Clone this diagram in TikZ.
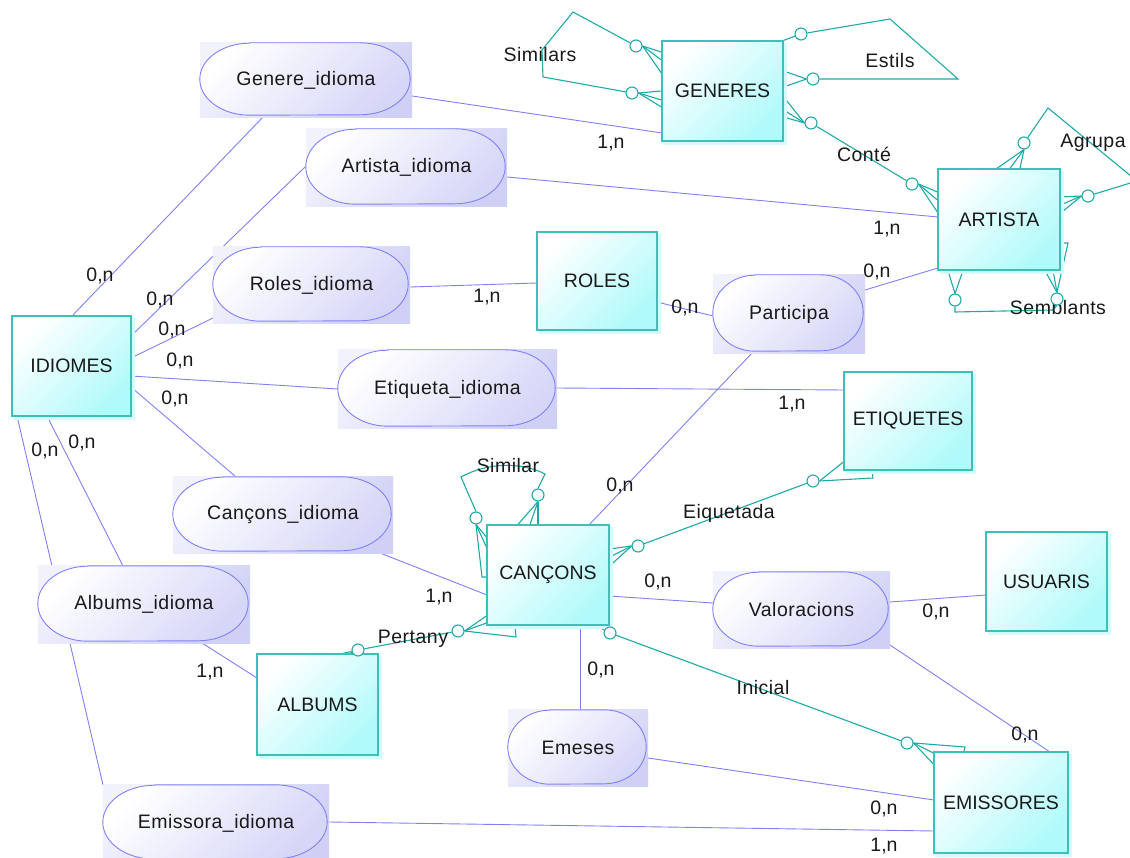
\documentclass[tikz,border=0pt]{standalone}
\usepackage{fontspec}
\setmainfont{Liberation Sans}
\newfontfamily\lsfont{Liberation Sans}[LetterSpace=2.5]
\usetikzlibrary{calc}
\pgfdeclarelayer{bg}\pgfdeclarelayer{mid}
\pgfsetlayers{bg,mid,main}
\definecolor{bl}{RGB}{128,128,245}
\definecolor{tl}{RGB}{30,170,168}
\definecolor{eb}{RGB}{60,192,186}
\definecolor{ef}{RGB}{176,250,250}
\definecolor{rl}{RGB}{208,208,246}
\definecolor{rt}{RGB}{242,242,253}
\definecolor{rs}{RGB}{214,214,248}
\definecolor{ro}{RGB}{128,128,250}
\tikzset{
  txt/.style={font=\fontsize{19.5}{23}\selectfont, text=black!90},
  ent/.style={txt, rectangle, draw=eb, line width=1.3pt, top color=white, bottom color=ef, shading angle=45, inner sep=0pt},
  rel/.style={txt, font=\lsfont\fontsize{19.5}{24}\selectfont, rectangle, inner sep=0pt},
  lbl/.style={txt, inner sep=0pt},
  nlbl/.style={txt, font=\lsfont\fontsize{19.5}{24}\selectfont, inner sep=0pt},
  ring/.style={circle, draw=tl, fill=white, line width=1.1pt, minimum size=12pt, inner sep=0pt},
  bline/.style={draw=bl, line width=0.9pt},
  tline/.style={draw=tl, line width=1.1pt},
}
\newcommand\stad[3]{%
  \shade[top color=rt, bottom color=rl, shading angle=45] (#1.north west) rectangle (#1.south east);
  \path[draw=ro, line width=0.9pt, top color=white, bottom color=rs, shading angle=45]
    ([xshift=#2pt]#1.north west) -- ([xshift=-#2pt-2pt]#1.north east)
    arc[start angle=90, end angle=-90, x radius=#2pt, y radius=#3pt]
    -- ([xshift=#2pt, yshift=2pt]#1.south west)
    arc[start angle=270, end angle=90, x radius=#2pt, y radius=#3pt] -- cycle;
}
\newcommand\eshadow[1]{%
  \fill[ef!55] ($(#1.north west)+(3,3)$) rectangle ($(#1.south east)+(3,3)$);
}
\begin{document}
\begin{tikzpicture}[x=1pt,y=-1pt]
\useasboundingbox (0,0) rectangle (1130,858);
\begin{pgfonlayer}{bg}
\fill[white] (0,0) rectangle (1130,858);
\end{pgfonlayer}

% entities
\node[ent, minimum width=121pt, minimum height=100pt] (GEN) at (722.5,91) {GENERES};
\node[ent, minimum width=122pt, minimum height=101pt] (ART) at (999,219.5) {ARTISTA};
\node[ent, minimum width=120pt, minimum height=98pt] (ROL) at (597,281) {ROLES};
\node[ent, minimum width=128pt, minimum height=98pt] (ETI) at (908,421) {ETIQUETES};
\node[ent, minimum width=119pt, minimum height=100pt] (IDI) at (71.5,366) {IDIOMES};
\node[ent, minimum width=122pt, minimum height=100pt] (CAN) at (548,575) {CANÇONS};
\node[ent, minimum width=121pt, minimum height=99pt] (USU) at (1046.5,581.5) {USUARIS};
\node[ent, minimum width=121pt, minimum height=101pt] (ALB) at (317.5,704.5) {ALBUMS};
\node[ent, minimum width=134pt, minimum height=101pt] (EMI) at (1001,802.5) {EMISSORES};

% relationships
\node[rel, minimum width=212pt, minimum height=74pt] (GI) at (306,80) {Genere\_idioma};
\node[rel, minimum width=201pt, minimum height=77pt] (AI) at (406.5,167.5) {Artista\_idioma};
\node[rel, minimum width=197pt, minimum height=76pt] (RI) at (311.5,285) {Roles\_idioma};
\node[rel, minimum width=152pt, minimum height=78pt] (PA) at (789,314) {Participa};
\node[rel, minimum width=219pt, minimum height=78pt] (EI) at (447.5,389) {Etiqueta\_idioma};
\node[rel, minimum width=220pt, minimum height=76pt] (CI) at (283,515) {Cançons\_idioma};
\node[rel, minimum width=212pt, minimum height=77pt] (ABI) at (144,604.5) {Albums\_idioma};
\node[rel, minimum width=177pt, minimum height=76pt] (VA) at (801.5,610) {Valoracions};
\node[rel, minimum width=140pt, minimum height=76pt] (EM) at (578,748) {Emeses};
\node[rel, minimum width=226pt, minimum height=76pt] (EMI2) at (216,823) {Emissora\_idioma};

\begin{pgfonlayer}{mid}
\foreach \n in {GEN,ART,ROL,ETI,IDI,CAN,USU,ALB,EMI} {\eshadow{\n}}
\stad{GI}{50}{36}
\stad{AI}{50}{37.5}
\stad{RI}{48}{37}
\stad{PA}{42}{38}
\stad{EI}{50}{38}
\stad{CI}{50}{37}
\stad{ABI}{50}{37.5}
\stad{VA}{46}{37}
\stad{EM}{42}{37}
\stad{EMI2}{52}{37}
\end{pgfonlayer}

% cardinality labels
\node[lbl] (k1) at (100,276) {0,n};
\node[lbl] (k2) at (611,143) {1,n};
\node[lbl] (k3) at (160,300) {0,n};
\node[lbl] (k4) at (172,330) {0,n};
\node[lbl] (k5) at (180,361) {0,n};
\node[lbl] (k6) at (175,399) {0,n};
\node[lbl] (k7) at (82,443) {0,n};
\node[lbl] (k8) at (45,451) {0,n};
\node[lbl] (k9) at (487,297) {1,n};
\node[lbl] (k10) at (685,308) {0,n};
\node[lbl] (k11) at (877,272) {0,n};
\node[lbl] (k12) at (620,486) {0,n};
\node[lbl] (k13) at (887,229) {1,n};
\node[lbl] (k14) at (792,404) {1,n};
\node[lbl] (k15) at (439,597) {1,n};
\node[lbl] (k16) at (210,672) {1,n};
\node[lbl] (k17) at (658,582) {0,n};
\node[lbl] (k18) at (936,612) {0,n};
\node[lbl] (k19) at (1025,735) {0,n};
\node[lbl] (k20) at (601,670) {0,n};
\node[lbl] (k21) at (884,809) {0,n};
\node[lbl] (k22) at (884,846) {1,n};

% recursive / crow's foot relationship labels
\node[nlbl] (n1) at (540,55) {Similars};
\node[nlbl] (n2) at (890,61) {Estils};
\node[nlbl] (n3) at (864,154) {Conté};
\node[nlbl] (n4) at (1093,143) {Agrupa};
\node[nlbl] (n5) at (1058,308) {Semblants};
\node[nlbl] (n6) at (508,466) {Similar};
\node[nlbl] (n7) at (729,513) {Eiquetada};
\node[nlbl] (n8) at (413,639) {Pertany};
\node[nlbl] (n9) at (763,688) {Inicial};

% rings
\node[ring] (cS1) at (636,46) {};
\node[ring] (cS2) at (632,93) {};
\node[ring] (cE1) at (801,34) {};
\node[ring] (cE2) at (813,79) {};
\node[ring] (cC1) at (811,123) {};
\node[ring] (cC2) at (912,184) {};
\node[ring] (cA1) at (1024,143) {};
\node[ring] (cA2) at (1088,196) {};
\node[ring] (cB1) at (955,300) {};
\node[ring] (cB2) at (1057,299) {};
\node[ring] (cL) at (476,518) {};
\node[ring] (cR) at (538,495) {};
\node[ring] (cQ1) at (638,546) {};
\node[ring] (cQ2) at (813,481) {};
\node[ring] (cP1) at (458,631) {};
\node[ring] (cP2) at (358,650) {};
\node[ring] (cI1) at (610,633) {};
\node[ring] (cI2) at (907,743) {};

\begin{pgfonlayer}{bg}
% blue connectors
\path[bline] ($(GI)+(-43,37)$) -- ($(IDI)+(0.5,-50)$);
\path[bline] ($(GI)+(106,16)$) -- ($(GEN)+(-60.5,42)$);
\path[bline] ($(AI)+(-101.5,-0.5)$) -- ($(IDI)+(59.5,-30)$);
\path[bline] ($(RI)+(-98.5,33)$) -- ($(IDI)+(59.5,-8)$);
\path[bline] ($(EI)+(-109.5,0)$) -- ($(IDI)+(59.5,10)$);
\path[bline] ($(CI)+(-47,-38)$) -- ($(IDI)+(59.5,21)$);
\path[bline] ($(ABI)+(-21,-38.5)$) -- ($(IDI)+(-24.5,50)$);
\path[bline] ($(EMI2)+(-113,-38)$) -- ($(IDI)+(-54.5,50)$);
\path[bline] ($(RI)+(98.5,2)$) -- ($(ROL)+(-60,2)$);
\path[bline] ($(ROL)+(60,21)$) -- ($(PA)+(-76,2)$);
\path[bline] ($(PA)+(76,-24)$) -- ($(ART)+(-61,48.5)$);
\path[bline] ($(PA)+(-37,39)$) -- ($(CAN)+(41,-50)$);
\path[bline] ($(AI)+(100.5,9.5)$) -- ($(ART)+(-61,-2.5)$);
\path[bline] ($(EI)+(109.5,-1)$) -- ($(ETI)+(-64,-31)$);
\path[bline] ($(CI)+(97,38)$) -- ($(CAN)+(-61,20)$);
\path[bline] ($(ABI)+(58,38.5)$) -- ($(ALB)+(-60.5,-26.5)$);
\path[bline] ($(CAN)+(61,21)$) -- ($(VA)+(-88.5,-7)$);
\path[bline] ($(VA)+(88.5,-8)$) -- ($(USU)+(-60.5,13.5)$);
\path[bline] ($(VA)+(88.5,35)$) -- ($(EMI)+(49,-50.5)$);
\path[bline] ($(CAN)+(32,50)$) -- ($(EM)+(2,-38)$);
\path[bline] ($(EM)+(70,10)$) -- ($(EMI)+(-67,-2.5)$);
\path[bline] ($(EMI2)+(113,-1)$) -- ($(EMI)+(-67,28.5)$);

% Similars (GENERES)
\path[tline] (cS1) -- (573,12) -- (542,50) -- (543,77) -- (cS2);
\foreach \y in {52,60,73} \path[tline] (cS1.east) -- (GEN.west |- 0,\y);
\foreach \y in {91,100,107} \path[tline] (cS2.east) -- (GEN.west |- 0,\y);
% Estils
\path[tline] (cE1) -- (890,19) -- (958,79) -- (cE2);
\path[tline] (GEN.north east) -- (cE1);
\foreach \y in {71,87} \path[tline] (cE2.west) -- (GEN.east |- 0,\y);
% Conte
\path[tline] (cC1) -- (cC2);
\foreach \y in {97,110,117} \path[tline] (cC1.west) -- (GEN.east |- 0,\y);
\foreach \y in {192,200,212} \path[tline] (cC2.east) -- (ART.west |- 0,\y);
% Agrupa
\path[tline] (cA1) -- (1048,108) -- (1137,181) -- (cA2);
\foreach \x in {997,1010,1020} \path[tline] (cA1.south) -- (ART.north -| \x,0);
\foreach \y in {197,205,213} \path[tline] (cA2.west) -- (ART.east |- 0,\y);
% Semblants
\path[tline] (cB1.south) -- (955,312) -- (1053,310) -- (cB2.south);
\foreach \x in {948,963} \path[tline] (cB1.north) -- (ART.south -| \x,0);
\foreach \x in {1045,1053} \path[tline] (cB2.north) -- (ART.south -| \x,0);
\path[tline] (ART.east |- 0,243) -- (1068,243) -- (cB2.north);
% Similar (CANCONS)
\path[tline] (cL.north) -- (461,477) .. controls (488,462) and (522,462) .. (545,474) -- (cR.north);
\foreach \x in {518,530,538} \path[tline] (cR.south) -- (CAN.north -| \x,0);
\path[tline] (cL.south) -- (482,577) -- (CAN.west |- 0,577);
\foreach \y in {547,537} \path[tline] (cL.south) -- (CAN.west |- 0,\y);
% Eiquetada
\path[tline] (cQ1) -- (cQ2);
\foreach \y in {549,557,566} \path[tline] (cQ1.west) -- (CAN.east |- 0,\y);
\path[tline] (cQ2.east) -- (ETI.west |- 0,462);
\path[tline] (cQ2.east) -- (873,478) -- (ETI.south -| 872,0);
% Pertany
\path[tline] (cP1) -- (cP2);
\foreach \y in {616,623} \path[tline] (cP1.east) -- (CAN.west |- 0,\y);
\path[tline] (cP1.east) -- (516,637) -- (CAN.south -| 515,0);
\foreach \x in {343,350} \path[tline] (cP2) -- (ALB.north -| \x,0);
% Inicial
\path[tline] (cI1) -- (cI2);
\foreach \x in {596,602} \path[tline] (cI1) -- (CAN.south -| \x,0);
\path[tline] (cI2.east) -- (965,747) -- (EMI.north -| 964,0);
\foreach \y in {753,764} \path[tline] (cI2.east) -- (EMI.west |- 0,\y);
\end{pgfonlayer}
\end{tikzpicture}
\end{document}
